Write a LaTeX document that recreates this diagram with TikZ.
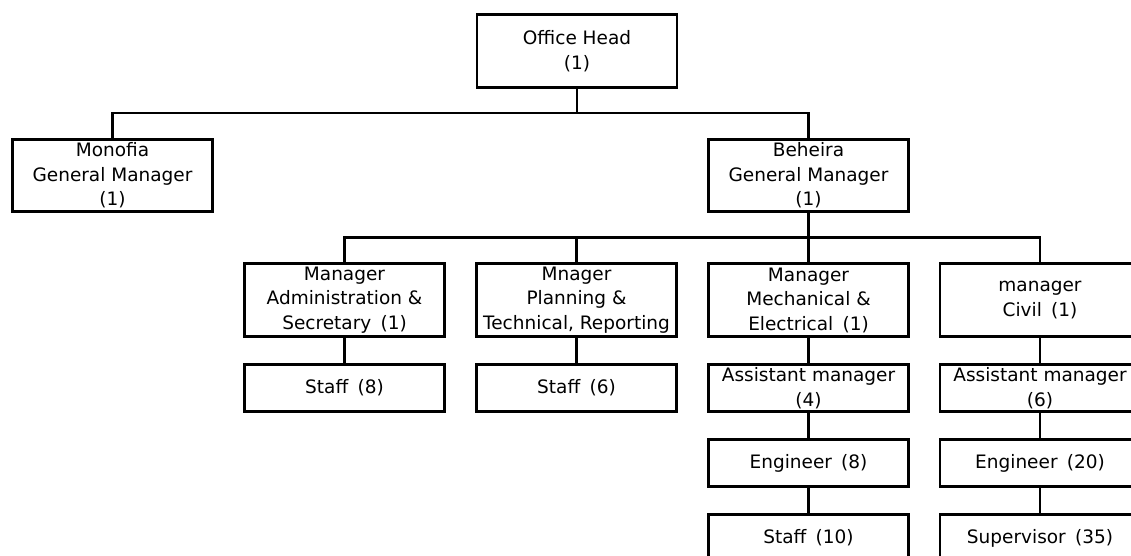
\documentclass[tikz,border=0pt]{standalone}
\usepackage{fontspec}
\setmainfont{DejaVu Sans}
\usepackage{tikz}
\usetikzlibrary{positioning}
\tikzset{
  post-node/.style={draw=black, line width=2.7pt, minimum width=200pt,
    font=\fontsize{18.5}{24.5}\selectfont, align=center, inner sep=0pt},
  tall-node/.style={post-node, minimum height=72.5pt},
  flat-node/.style={post-node, minimum height=47.5pt},
  tie-line/.style={line width=2.7pt, draw=black}
}

\begin{document}
\begin{tikzpicture}[x=1pt, y=-1pt]
\clip (0,0) rectangle (1131,556);
% top of the chart
\node[tall-node, minimum height=73.5pt] (head) at (577,51) {Office Head\\(1)};
\node[tall-node] (monofia) at (112.5,175.5) {Monofia\\General Manager\\(1)};
\node[tall-node] (beheira) at (808.5,175.5) {Beheira\\General Manager\\(1)};
\coordinate (bar1) at (577,113);
\coordinate (bar2) at (808.5,237.5);
\draw[tie-line] (head) -- (bar1);
\draw[tie-line] (monofia.north) |- (bar1) -| (beheira.north);
% department managers
\node[tall-node] (admin) at (344.5,300) {Manager\\Administration \&\\Secretary\enspace(1)};
\node[tall-node] (planning) at (576.5,300) {Mnager\\Planning \&\\Technical, Reporting};
\node[tall-node] (mech) at (808.5,300) {Manager\\Mechanical \&\\Electrical\enspace(1)};
\node[tall-node] (civil) at (1040,300) {manager\\Civil\enspace(1)};
\draw[tie-line] (beheira) -- (bar2);
\draw[tie-line] (admin.north) |- (bar2) -| (civil.north);
\draw[tie-line] (planning.north) -- (planning.north |- bar2);
\draw[tie-line] (mech.north) -- (mech.north |- bar2);
% staff under each manager
\node[flat-node] (adminstaff) at (344.5,388) {Staff\enspace(8)};
\node[flat-node] (planstaff) at (576.5,388) {Staff\enspace(6)};
\node[flat-node] (mechasst) at (808.5,388) {Assistant manager\\(4)};
\node[flat-node] (civilasst) at (1040,388) {Assistant manager\\(6)};
\node[flat-node] (mecheng) at (808.5,463) {Engineer\enspace(8)};
\node[flat-node] (civileng) at (1040,463) {Engineer\enspace(20)};
\node[flat-node] (mechstaff) at (808.5,538) {Staff\enspace(10)};
\node[flat-node] (civilsup) at (1040,538) {Supervisor\enspace(35)};
\draw[tie-line] (admin) -- (adminstaff);
\draw[tie-line] (planning) -- (planstaff);
\draw[tie-line] (mech) -- (mechasst) -- (mecheng) -- (mechstaff);
\draw[tie-line] (civil) -- (civilasst) -- (civileng) -- (civilsup);
\end{tikzpicture}
\end{document}
